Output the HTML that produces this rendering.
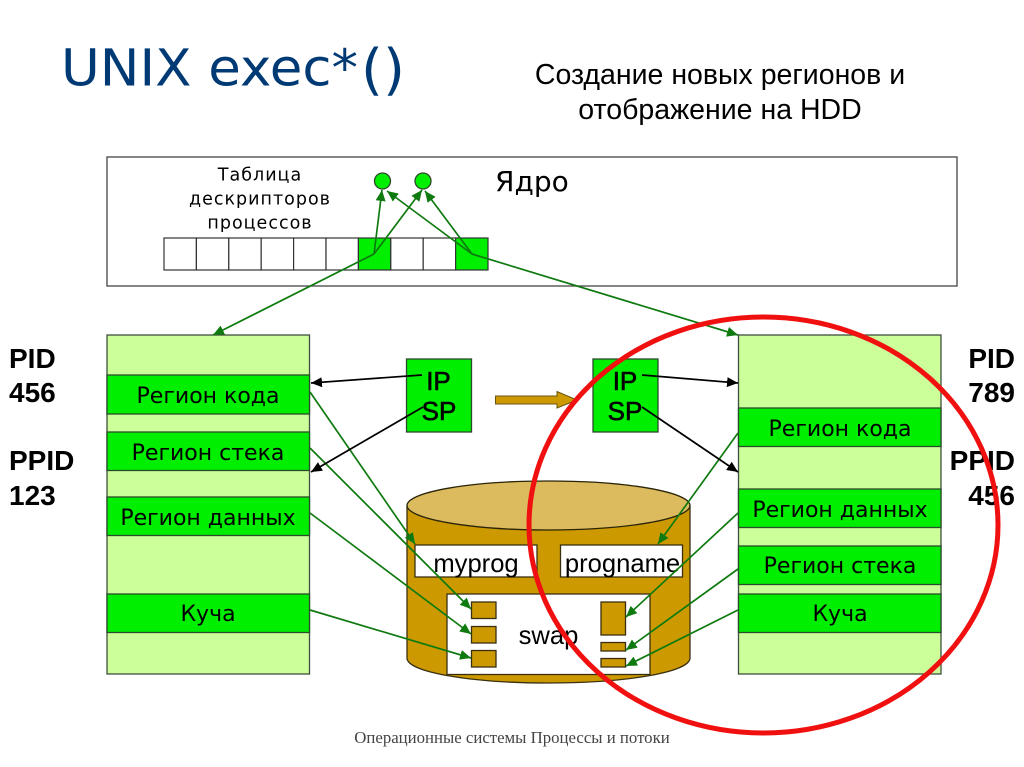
<!DOCTYPE html>
<html><head><meta charset="utf-8"><style>
html,body{margin:0;padding:0;background:#fff}
svg{display:block}
.d{font-family:"DejaVu Sans",sans-serif}
.l{font-family:"Liberation Sans",sans-serif}
.b{font-family:"Liberation Sans",sans-serif;font-weight:bold;font-size:28px;fill:#000}
.r{font-family:"DejaVu Sans",sans-serif;font-size:22px;fill:#000;text-anchor:middle}
.g{stroke:#0f7a0f;stroke-width:1.7;fill:none;marker-end:url(#ag)}
.k{stroke:#000;stroke-width:1.7;fill:none;marker-end:url(#ak)}
.e{fill:#00ee00;stroke:#2c4a2c;stroke-width:1.3}
.s{fill:#cc9900;stroke:#3a3010;stroke-width:1.3}
.w{fill:#fff;stroke:#3a3010;stroke-width:1.3}
</style></head><body>
<svg width="1024" height="767" viewBox="0 0 1024 767" xmlns="http://www.w3.org/2000/svg">
<defs>
<marker id="ag" markerUnits="userSpaceOnUse" markerWidth="12" markerHeight="10" refX="11" refY="5" orient="auto"><path d="M0 0L11 5L0 10Z" fill="#0f7a0f"/></marker>
<marker id="ak" markerUnits="userSpaceOnUse" markerWidth="12" markerHeight="10" refX="11" refY="5" orient="auto"><path d="M0 0L11 5L0 10Z" fill="#000"/></marker>
</defs>

<text x="61" y="85.500" class="d" font-size="51" fill="#003a75" textLength="297" lengthAdjust="spacingAndGlyphs">UNIX exec*</text>
<text x="361" y="88.500" class="d" font-size="55" fill="#003a75" textLength="44" lengthAdjust="spacingAndGlyphs">()</text>
<text x="720" y="84" class="l" font-size="28.500" fill="#000" text-anchor="middle">Создание новых регионов и</text>
<text x="720" y="119" class="l" font-size="28.500" fill="#000" text-anchor="middle">отображение на HDD</text>

<!-- kernel -->
<rect x="107" y="157" width="850" height="129" fill="#fff" stroke="#444" stroke-width="1.3"/>
<text x="260" y="180.500" class="d" font-size="17.500" text-anchor="middle" letter-spacing="1">Таблица</text>
<text x="260" y="204.500" class="d" font-size="17.500" text-anchor="middle" letter-spacing="1">дескрипторов</text>
<text x="260" y="228.500" class="d" font-size="17.500" text-anchor="middle" letter-spacing="1">процессов</text>
<text x="495" y="191" class="d" font-size="28" fill="#000">Ядро</text>
<g fill="#fff" stroke="#333" stroke-width="1.2">
<rect x="164" y="238" width="32.4" height="32"/>
<rect x="196.4" y="238" width="32.4" height="32"/>
<rect x="228.8" y="238" width="32.4" height="32"/>
<rect x="261.2" y="238" width="32.4" height="32"/>
<rect x="293.6" y="238" width="32.4" height="32"/>
<rect x="326" y="238" width="32.4" height="32"/>
<rect x="358.4" y="238" width="32.4" height="32" fill="#00ee00"/>
<rect x="390.8" y="238" width="32.4" height="32"/>
<rect x="423.2" y="238" width="32.4" height="32"/>
<rect x="455.6" y="238" width="32.4" height="32" fill="#00ee00"/>
</g>
<circle cx="382.5" cy="181" r="8" class="e"/>
<circle cx="423" cy="181" r="8" class="e"/>

<!-- left column -->
<rect x="107" y="335" width="202.5" height="339" fill="#ccff99" stroke="#3f4f3f" stroke-width="1.3"/>
<rect x="107" y="375" width="202.5" height="39" class="e"/>
<rect x="107" y="432" width="202.5" height="38.500" class="e"/>
<rect x="107" y="497" width="202.5" height="38.500" class="e"/>
<rect x="107" y="594" width="202.5" height="38.500" class="e"/>
<text x="208" y="403" class="r">Регион кода</text>
<text x="208" y="460" class="r">Регион стека</text>
<text x="208" y="525" class="r">Регион данных</text>
<text x="208" y="621" class="r">Куча</text>

<!-- right column -->
<rect x="738.500" y="335" width="202.5" height="339" fill="#ccff99" stroke="#3f4f3f" stroke-width="1.3"/>
<rect x="738.500" y="408" width="202.5" height="38.500" class="e"/>
<rect x="738.500" y="489" width="202.5" height="38.500" class="e"/>
<rect x="738.500" y="546" width="202.5" height="38.500" class="e"/>
<rect x="738.500" y="594" width="202.5" height="38.500" class="e"/>
<text x="840" y="436" class="r">Регион кода</text>
<text x="840" y="517" class="r">Регион данных</text>
<text x="840" y="573" class="r">Регион стека</text>
<text x="840" y="621" class="r">Куча</text>

<!-- PID labels -->
<text x="9" y="368" class="b">PID</text>
<text x="9" y="402" class="b">456</text>
<text x="9" y="470" class="b">PPID</text>
<text x="9" y="505" class="b">123</text>
<text x="1015" y="368" class="b" text-anchor="end">PID</text>
<text x="1015" y="402" class="b" text-anchor="end">789</text>
<text x="1015" y="470" class="b" text-anchor="end">PPID</text>
<text x="1015" y="505" class="b" text-anchor="end">456</text>

<!-- IP/SP -->
<rect x="406.500" y="359" width="65" height="73" class="e"/>
<rect x="593" y="359" width="65" height="73" class="e"/>
<g stroke="#000" stroke-width="0.6">
<text x="438.500" y="390" class="l" font-size="26" text-anchor="middle">IP</text>
<text x="439" y="420" class="l" font-size="26" text-anchor="middle">SP</text>
<text x="625" y="390" class="l" font-size="26" text-anchor="middle">IP</text>
<text x="625" y="420" class="l" font-size="26" text-anchor="middle">SP</text>
</g>
<path d="M495.500 396H557V391.500L577 400L557 408V404H495.500Z" fill="#cc9900" stroke="#6a5410" stroke-width="1"/>

<!-- cylinder -->
<path d="M407 506V658C407 672 470 683 548.500 683S690 672 690 658V506Z" class="s"/>
<ellipse cx="548.500" cy="505.500" rx="141.500" ry="24.500" fill="#dcbb5e" stroke="#2a2408" stroke-width="1.3"/>
<rect x="415" y="545" width="122" height="32" class="w"/>
<rect x="560.500" y="545" width="122" height="32" class="w"/>
<text x="476" y="572" class="l" font-size="25.600" text-anchor="middle">myprog</text>
<text x="622.500" y="572" class="l" font-size="25.600" text-anchor="middle">progname</text>
<rect x="447" y="594" width="203" height="80.500" class="w"/>
<text x="548.500" y="644" class="l" font-size="25.600" text-anchor="middle">swap</text>
<rect x="471.500" y="602" width="24.500" height="16.500" class="s"/>
<rect x="471.500" y="626.500" width="24.500" height="16.500" class="s"/>
<rect x="471.500" y="650.500" width="24.500" height="16.500" class="s"/>
<rect x="601" y="602" width="24.500" height="33" class="s"/>
<rect x="601" y="642.500" width="24.500" height="8.500" class="s"/>
<rect x="601" y="658.500" width="24.500" height="8.500" class="s"/>

<!-- green connectors -->
<path class="g" d="M374 254L382 190"/>
<path class="g" d="M374 254L422 190"/>
<path class="g" d="M374 254L213 335"/>
<path class="g" d="M472 254L387 191"/>
<path class="g" d="M472 254L425 191"/>
<path class="g" d="M472 254L738 335"/>
<path class="g" d="M310 392L415 544"/>
<path class="g" d="M310 448L471 609"/>
<path class="g" d="M310 513L471 634"/>
<path class="g" d="M310 610L471 658"/>
<path class="g" d="M738 433L658 544"/>
<path class="g" d="M738 513L626 617"/>
<path class="g" d="M738 569L626 650"/>
<path class="g" d="M738 610L626 666"/>

<!-- black connectors -->
<path class="k" d="M422 375L311 383"/>
<path class="k" d="M423 407L311 472"/>
<path class="k" d="M642 375L738 383"/>
<path class="k" d="M642 407L738 472"/>

<!-- red ellipse -->
<ellipse cx="763.500" cy="525" rx="234.500" ry="208" fill="none" stroke="#f01010" stroke-width="5"/>

<text x="512" y="743" font-family="'Liberation Serif',serif" font-size="16.800" fill="#444" text-anchor="middle">Операционные системы Процессы и потоки</text>
</svg>
</body></html>
